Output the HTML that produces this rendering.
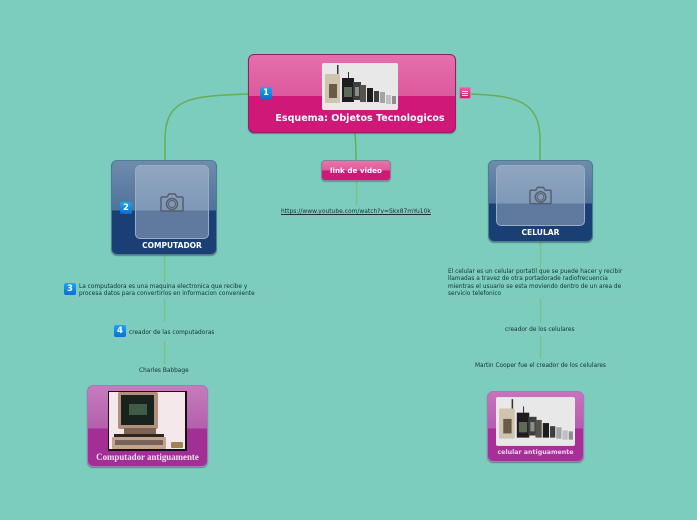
<!DOCTYPE html>
<html><head><meta charset="utf-8">
<style>
html,body{margin:0;padding:0}
body{width:697px;height:520px;background:#7dcdbf;position:relative;overflow:hidden;font-family:"DejaVu Sans","Liberation Sans",sans-serif}
.a{position:absolute;box-sizing:border-box}
.t{position:absolute;font-size:5.84px;line-height:7.4px;color:#15302f;white-space:nowrap}
.c{text-align:center;color:#fff;font-weight:bold;white-space:nowrap;position:absolute}
.b{position:absolute;width:12px;height:12px;border-radius:2px;background:linear-gradient(#20a4f0,#0a6fd0);color:#fff;font:bold 8.5px/12px "DejaVu Sans",sans-serif;text-align:center}
.u{position:absolute;height:1px;background:#8fc4ba}
</style></head><body>
<svg class="a" style="left:0;top:0" width="697" height="520" fill="none">
<g stroke="#68ad55" stroke-width="1.5">
<path d="M248 94C190 96 165 98 165 140V160"/>
<path d="M471 94C515 96 540 100 540 140V160"/>
<path d="M355 133C356 145 356 150 356 160"/>
</g>
<g stroke="#7cbf80" stroke-width="1.5">
<path d="M356.5 181V205"/>
<path d="M164.5 255V282"/><path d="M164.5 299V322"/><path d="M164.5 341V364"/>
<path d="M540.5 242V268"/><path d="M540.5 299V323"/><path d="M540.5 336V359"/>
</g>
</svg>

<!-- central -->
<div class="a" style="left:248px;top:54px;width:208px;height:79px;border-radius:6px;border:1px solid #9a1a68;background:linear-gradient(#e56fac 0,#dc5a9e 53%,#cf1877 53%,#cf1877 100%);box-shadow:0 1px 1px rgba(50,70,70,.5)"></div>
<svg class="a" style="left:322px;top:63px;border-radius:2px" width="76" height="47" viewBox="0 0 76 47"><use href="#ph"/></svg>
<div class="b" style="left:260px;top:87px">1</div>
<div class="c" style="left:248px;width:224px;top:112px;font-size:9.55px;line-height:13px">Esquema: Objetos Tecnologicos</div>
<div class="a" style="left:459px;top:87px;width:12px;height:12px;border-radius:2px;background:linear-gradient(#e8609f,#cf1877);border:1px solid #e07ab0"><div style="margin:2.5px 2px 0;height:1px;background:#fde;box-shadow:0 2px 0 #fde,0 4px 0 #fde"></div></div>

<!-- link -->
<div class="a" style="left:321px;top:160px;width:70px;height:21px;border-radius:4px;border:1px solid #7a8a90;background:linear-gradient(#e873ad 0,#dd5a9e 50%,#cf1877 50%,#cf1877 100%);box-shadow:0 1px 1px rgba(50,70,70,.4)"></div>
<div class="c" style="left:321px;width:70px;top:166px;font-size:7.2px;line-height:10px">link de video</div>
<div class="t" style="left:281px;top:208px;font-size:5.96px;text-decoration:underline">https://www.youtube.com/watch?v=Skx87mYu10k</div>
<div class="u" style="left:280px;top:216px;width:152px"></div>

<!-- computador -->
<div class="a" style="left:111px;top:160px;width:106px;height:95px;border-radius:6px;border:1px solid #4d7d90;background:linear-gradient(#6e8cac 0,#4f739c 53%,#193f74 53%,#193f74 100%);box-shadow:0 1px 1px rgba(50,70,70,.5)"></div>
<div class="a" style="left:135px;top:165px;width:74px;height:74px;border-radius:5px;border:1px solid #9aabc2;background:rgba(200,210,225,.4)"></div>
<svg class="a" style="left:160px;top:192px" width="24" height="21" viewBox="0 0 24 21" fill="none" stroke="#565f6c" stroke-width="1.5"><path d="M2 5h5l2-3h6l2 3h5q1 0 1 1v12q0 1-1 1H2q-1 0-1-1V6q0-1 1-1z"/><circle cx="12" cy="12" r="5.5"/><circle cx="12" cy="12" r="3.5" stroke-width="1"/></svg>
<div class="b" style="left:120px;top:202px">2</div>
<div class="c" style="left:111px;top:241px;font-size:7.5px;line-height:10px;width:122px">COMPUTADOR</div>

<!-- celular -->
<div class="a" style="left:488px;top:160px;width:105px;height:82px;border-radius:6px;border:1px solid #4d7d90;background:linear-gradient(#6e8cac 0,#4f739c 53%,#193f74 53%,#193f74 100%);box-shadow:0 1px 1px rgba(50,70,70,.5)"></div>
<div class="a" style="left:496px;top:165px;width:89px;height:61px;border-radius:5px;border:1px solid #9aabc2;background:rgba(200,210,225,.4)"></div>
<svg class="a" style="left:529px;top:185px" width="23" height="21" viewBox="0 0 24 21" fill="none" stroke="#565f6c" stroke-width="1.5"><path d="M2 5h5l2-3h6l2 3h5q1 0 1 1v12q0 1-1 1H2q-1 0-1-1V6q0-1 1-1z"/><circle cx="12" cy="12" r="5.5"/><circle cx="12" cy="12" r="3.5" stroke-width="1"/></svg>
<div class="c" style="left:488px;width:105px;top:228px;font-size:7.6px;line-height:10px">CELULAR</div>

<!-- left texts -->
<div class="b" style="left:64px;top:283px">3</div>
<div class="t" style="left:79px;top:284px">La computadora es una maquina electronica que recibe y<br>procesa datos para convertirlos en informacion conveniente</div>
<div class="u" style="left:60px;top:298px;width:210px"></div>
<div class="b" style="left:114px;top:325px">4</div>
<div class="t" style="left:129px;top:330px">creador de las computadoras</div>
<div class="u" style="left:109px;top:340px;width:110px"></div>
<div class="t" style="left:139px;top:368px">Charles Babbage</div>
<div class="u" style="left:135px;top:376px;width:58px"></div>

<!-- right texts -->
<div class="t" style="left:448px;top:269px">El celular es un celular portatil que se puede hacer y recibir<br>llamadas a travez de otra portadorade radiofrecuencia<br>mientras el usuario se esta moviendo dentro de un area de<br>servicio telefonico</div>
<div class="u" style="left:444px;top:298px;width:184px"></div>
<div class="t" style="left:505px;top:327px">creador de los celulares</div>
<div class="u" style="left:501px;top:335px;width:78px"></div>
<div class="t" style="left:475px;top:363px">Martin Cooper fue el creador de los celulares</div>
<div class="u" style="left:470px;top:371px;width:140px"></div>

<!-- computador antiguamente -->
<div class="a" style="left:87px;top:385px;width:121px;height:82px;border-radius:6px;border:1px solid #a67ab8;background:linear-gradient(#c67cbc 0,#b460ac 53%,#a22f96 53%,#a22f96 100%);box-shadow:0 1px 1px rgba(50,70,70,.5)"></div>
<svg class="a" style="left:108px;top:391px" width="79" height="60" viewBox="0 0 79 60">
<rect width="79" height="60" fill="#f4e8ea"/>
<rect x="0" y="0" width="1" height="60" fill="#111"/><rect x="77" y="0" width="2" height="60" fill="#111"/><rect width="79" height="1" fill="#111"/><rect y="58" width="79" height="2" fill="#111"/>
<rect x="10" y="1" width="40" height="37" rx="2" fill="#b0907c"/>
<rect x="13" y="4" width="33" height="30" fill="#1a221e"/>
<rect x="21" y="13" width="18" height="11" fill="#3f5c48"/>
<rect x="16" y="37" width="32" height="6" fill="#7d6352"/>
<rect x="6" y="43" width="50" height="4" fill="#2e2420"/>
<rect x="4" y="46" width="54" height="12" rx="1" fill="#c4a48c"/>
<rect x="7" y="49" width="48" height="5" fill="#76645a"/>
<rect x="63" y="51" width="12" height="6" rx="1" fill="#a08258"/>
</svg>
<div class="c" style="left:87px;width:121px;top:452px;font:bold 8.9px/11px 'Liberation Serif',serif;color:#f3e0f0">Computador antiguamente</div>

<!-- celular antiguamente -->
<div class="a" style="left:487px;top:391px;width:97px;height:71px;border-radius:6px;border:1px solid #a67ab8;background:linear-gradient(#c873bc 0,#b85cae 53%,#a62f98 53%,#a62f98 100%);box-shadow:0 1px 1px rgba(50,70,70,.5)"></div>
<svg class="a" style="left:496px;top:397px;border-radius:2px" width="79" height="49" viewBox="0 0 76 47"><use href="#ph"/></svg>
<div class="c" style="left:487px;width:97px;top:448px;font-size:6.3px;line-height:10px;color:#f0d4ec">celular antiguamente</div>

<svg width="0" height="0" style="position:absolute"><defs><g id="ph">
<rect width="76" height="47" fill="#e8e8e8"/>
<rect x="15" y="2" width="1.5" height="9" fill="#333"/>
<rect x="3" y="11" width="15" height="29" rx="1" fill="#cfc4ae"/>
<rect x="7" y="21" width="8" height="14" fill="#6a5a48"/>
<rect x="20" y="15" width="12" height="24" fill="#1d1d1f"/>
<rect x="22" y="24" width="8" height="10" fill="#5d6a5a"/>
<rect x="26" y="9" width="1" height="6" fill="#333"/>
<rect x="31" y="19" width="8" height="18" fill="#3c3e40"/>
<rect x="33" y="24" width="4" height="9" fill="#8a8f88"/>
<rect x="38" y="22" width="6" height="17" fill="#58524c"/>
<rect x="45" y="25" width="6" height="14" fill="#1c1c1f"/>
<rect x="52" y="28" width="5" height="11" fill="#403c3a"/>
<rect x="58" y="29" width="5" height="11" fill="#a4a4a6"/>
<rect x="64" y="32" width="5" height="9" fill="#c0c0c2"/>
<rect x="70" y="33" width="4" height="8" fill="#8e8e90"/>
</g></defs></svg>
</body></html>
